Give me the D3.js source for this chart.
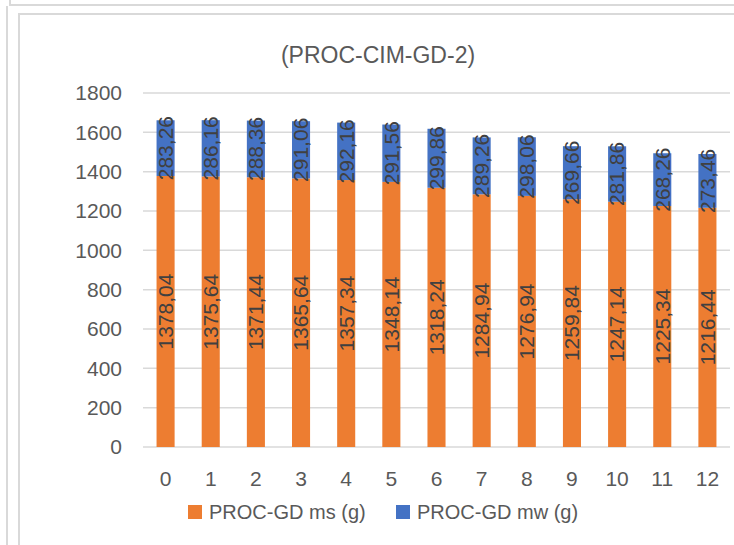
<!DOCTYPE html>
<html>
<head>
<meta charset="utf-8">
<script src="https://cdn.jsdelivr.net/npm/d3@7"></script>
<style>
  body { margin: 0; background: #fff; }
  svg text { font-family: "Liberation Sans", Arial, sans-serif; }
</style>
</head>
<body>
<div id="chart"></div>
<script>
// values
const categories = ["0", "1", "2", "3", "4", "5", "6", "7", "8", "9", "10", "11", "12"];
const msValues = [1378.04, 1375.64, 1371.44, 1365.64, 1357.34, 1348.14, 1318.24, 1284.94, 1276.94, 1259.84, 1247.14, 1225.34, 1216.44];
const mwValues = [283.26, 286.16, 288.36, 291.06, 292.16, 291.56, 299.86, 289.26, 298.06, 269.66, 281.86, 268.26, 273.46];
const seriesNames = ["PROC-GD ms (g)", "PROC-GD mw (g)"];
const seriesColors = ["#ED7D31", "#4472C4"];
const yTicks = [0, 200, 400, 600, 800, 1000, 1200, 1400, 1600, 1800];
const title = "(PROC-CIM-GD-2)";

const W = 734, H = 545;
const plot = { left: 143, right: 730, top: 93, bottom: 447 };

const svg = d3.select("#chart").append("svg")
    .attr("width", W)
    .attr("height", H);

// surrounding frame lines
const frame = svg.append("g")
    .attr("fill", "none")
    .attr("stroke", "#d9d9d9")
    .attr("stroke-width", 2);
frame.append("path").attr("d", `M10,0V5H${W}`);
frame.append("path").attr("d", `M7,6V${H}`);
frame.append("path").attr("d", `M19,${H}V14H${W}`);

const x = d3.scaleBand()
    .domain(categories)
    .range([plot.left, plot.right])
    .paddingInner(0.6)
    .paddingOuter(0.3);

const y = d3.scaleLinear()
    .domain([0, 1800])
    .range([plot.bottom, plot.top]);

// gridlines
svg.append("g")
    .selectAll("line")
    .data(yTicks)
    .join("line")
    .attr("x1", plot.left)
    .attr("x2", plot.right)
    .attr("y1", d => y(d))
    .attr("y2", d => y(d))
    .attr("stroke", "#d9d9d9")
    .attr("stroke-width", 1.5);

// y tick labels
svg.append("g")
    .selectAll("text")
    .data(yTicks)
    .join("text")
    .attr("x", 122)
    .attr("y", d => y(d))
    .attr("dy", "0.35em")
    .attr("text-anchor", "end")
    .attr("font-size", 21)
    .attr("fill", "#595959")
    .text(d => d);

// x tick labels
svg.append("g")
    .selectAll("text")
    .data(categories)
    .join("text")
    .attr("x", d => x(d) + x.bandwidth() / 2)
    .attr("y", 479)
    .attr("dy", "0.35em")
    .attr("text-anchor", "middle")
    .attr("font-size", 21)
    .attr("fill", "#595959")
    .text(d => d);

// stack the two series
const rows = categories.map((c, i) => ({ cat: c, ms: msValues[i], mw: mwValues[i] }));
const stacked = d3.stack().keys(["ms", "mw"])(rows);

const layers = svg.append("g")
    .selectAll("g")
    .data(stacked)
    .join("g")
    .attr("fill", (d, i) => seriesColors[i]);

layers.selectAll("rect")
    .data(d => d)
    .join("rect")
    .attr("x", d => x(d.data.cat))
    .attr("width", x.bandwidth())
    .attr("y", d => y(d[1]))
    .attr("height", d => y(d[0]) - y(d[1]));

// data labels, rotated
const fmt = v => v.toFixed(2).replace(".", ",");
layers.selectAll("text")
    .data((d, i) => d.map(p => ({ p, key: d.key })))
    .join("text")
    .attr("transform", d => {
        const cx = x(d.p.data.cat) + x.bandwidth() / 2;
        const cy = y((d.p[0] + d.p[1]) / 2);
        return `translate(${cx},${cy}) rotate(-90)`;
    })
    .attr("dy", "0.35em")
    .attr("text-anchor", "middle")
    .attr("font-size", 21)
    .attr("fill", "#404040")
    .text(d => fmt(d.p.data[d.key]));

// title
svg.append("text")
    .attr("x", 378)
    .attr("y", 55)
    .attr("dy", "0.35em")
    .attr("text-anchor", "middle")
    .attr("font-size", 23)
    .attr("fill", "#595959")
    .text(title);

// legend
const legendX = [188, 396];
const legend = svg.append("g")
    .selectAll("g")
    .data(seriesNames)
    .join("g")
    .attr("transform", (d, i) => `translate(${legendX[i]},505)`);
legend.append("rect")
    .attr("width", 14)
    .attr("height", 14)
    .attr("fill", (d, i) => seriesColors[i]);
legend.append("text")
    .attr("x", 21)
    .attr("y", 7)
    .attr("dy", "0.35em")
    .attr("font-size", 20)
    .attr("fill", "#595959")
    .text(d => d);
</script>
</body>
</html>
